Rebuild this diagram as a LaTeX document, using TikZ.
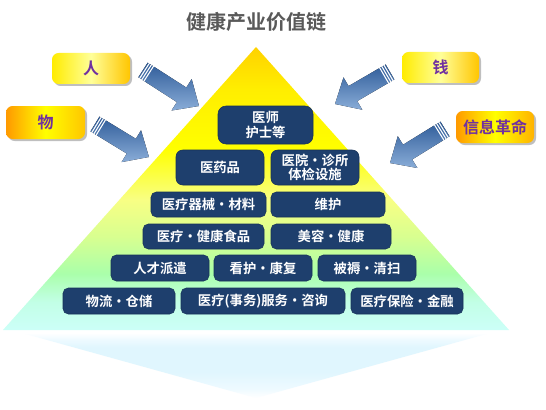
\documentclass[tikz,border=0pt]{standalone}
\usepackage{fontspec}
\newfontfamily\cjk{Noto Sans CJK SC}[BoldFont={Noto Sans CJK SC Bold}]
\usetikzlibrary{calc,shadows}
\definecolor{navy}{HTML}{1E3F6D}
\definecolor{navyedge}{HTML}{163158}
\definecolor{purp}{HTML}{7030A0}
\definecolor{titlegray}{HTML}{595959}
\definecolor{pA}{HTML}{CCFFF8}
\definecolor{pB}{HTML}{C2FFE6}
\definecolor{pC}{HTML}{AAFFAA}
\definecolor{pD}{HTML}{D8FF90}
\definecolor{pE}{HTML}{F8FF84}
\definecolor{pF}{HTML}{FFFF00}
\definecolor{pG}{HTML}{FFEE00}
\definecolor{pH}{HTML}{FFD200}
\definecolor{rA}{HTML}{E0F6FE}
\definecolor{rB}{HTML}{EEFAFF}
\definecolor{arDark}{HTML}{2F5C99}
\definecolor{arLight}{HTML}{8AADD8}
\pgfdeclareverticalshading{pyr}{100bp}{color(0bp)=(pA); color(25bp)=(pA); color(30bp)=(pB); color(35bp)=(pC); color(41.5bp)=(pD); color(48bp)=(pE); color(57bp)=(pF); color(67.5bp)=(pG); color(75bp)=(pH); color(100bp)=(pH)}
\pgfdeclareverticalshading{refl}{100bp}{color(0bp)=(white); color(25bp)=(white); color(32bp)=(rB); color(45bp)=(rA); color(64bp)=(rA); color(70bp)=(rB); color(75bp)=(white); color(100bp)=(white)}
\tikzset{
  bx/.style 2 args={minimum width={#1*0.75pt}, minimum height={#2*0.75pt}},
  nb/.style={fill=navy, draw=navyedge, line width=0.4pt, rounded corners=4pt, inner sep=0pt,
    text=white, align=center, font=\cjk\bfseries\fontsize{10}{11.5}\selectfont},
  sb/.style={rounded corners=5pt, inner sep=0pt, text=purp,
    font=\cjk\bfseries\fontsize{12}{14}\selectfont,
    drop shadow={shadow xshift=1.5pt, shadow yshift=-1.5pt, fill=black!50, opacity=0.5}},
  arrowfill/.style={top color=arDark, bottom color=arLight},
}
\newcommand\blkarrow[2]{%
  \path let \p1=(#1), \p2=(#2) in \pgfextra{%
    \pgfmathsetmacro\arAngT{atan2(\y2-\y1,\x2-\x1)}%
    \pgfmathsetmacro\arLenT{veclen(\x2-\x1,\y2-\y1)}%
    \global\let\arAng\arAngT \global\let\arLen\arLenT};
  \begin{scope}[shift={(#1)}, rotate=\arAng]
    \fill[arrowfill] (0pt,-6.5pt) -- ({\arLen pt-15.5pt},-6.5pt) -- ({\arLen pt-15.5pt},-14pt)
      -- (\arLen pt,0pt) -- ({\arLen pt-15.5pt},14pt) -- ({\arLen pt-15.5pt},6.5pt) -- (0pt,6.5pt) -- cycle;
    \foreach \g in {1.3pt,3.2pt,5.1pt} \draw[white, line width=0.8pt] (\g,-7pt) -- (\g,7pt);
  \end{scope}}
\begin{document}
\begin{tikzpicture}[x=0.75pt, y=-0.75pt]
\useasboundingbox (0,0) rectangle (546,410);
\fill[white] (0,0) rectangle (546,410);
% reflection
\shade[shading=refl] (22,333) -- (490,333) -- (256,398) -- cycle;
% pyramid
\shade[shading=pyr] (256,47) -- (509,330) -- (3,330) -- cycle;
% title
\node[font=\cjk\bfseries\fontsize{15}{17}\selectfont, text=titlegray] (title) at (256,22) {健康产业价值链};
% side boxes
\node[sb, bx={78}{31}, left color=yellow!85!orange, right color=orange!45!yellow, middle color=yellow!40] (ren) at (91,68.5) {人};
\node[sb, bx={77}{31}, left color=yellow!85!orange, right color=orange!45!yellow, middle color=yellow!40] (qian) at (440.5,67.5) {钱};
\node[sb, bx={79}{33}, left color=orange!80!yellow, right color=orange!45!yellow, middle color=yellow] (wu) at (45.5,122.5) {物};
\node[sb, bx={78}{32}, left color=orange!80!yellow, right color=orange!60!yellow, middle color=yellow] (xinxi) at (495,127) {信息革命};
% arrow ends
\coordinate (a1t) at (143,70); \coordinate (a1h) at (199,106);
\coordinate (a2t) at (390,72); \coordinate (a2h) at (335,104);
\coordinate (a3t) at (95,124); \coordinate (a3h) at (149,157);
\coordinate (a4t) at (445,129); \coordinate (a4h) at (390,163);
\blkarrow{a1t}{a1h}
\blkarrow{a2t}{a2h}
\blkarrow{a3t}{a3h}
\blkarrow{a4t}{a4h}
% pyramid boxes
\node[nb, bx={95}{38}, rounded corners=6pt, font=\cjk\bfseries\fontsize{10}{11}\selectfont] (yishi) at (265.5,125) {医师\\护士等};
\node[nb, bx={88}{35}, rounded corners=5pt] (yaopin) at (220,167.5) {医药品};
\node[nb, bx={88}{35}, rounded corners=5pt, font=\cjk\bfseries\fontsize{10}{11}\selectfont] (yiyuan) at (315,167.5) {医院・诊所\\体检设施};
\node[nb, bx={115}{25}] (qixie) at (208.5,204.5) {医疗器械・材料};
\node[nb, bx={114}{25}] (weihu) at (328,204.5) {维护};
\node[nb, bx={121}{25}] (shipin) at (203.5,236.5) {医疗・健康食品};
\node[nb, bx={120}{25}] (meirong) at (331,236.5) {美容・健康};
\node[nb, bx={98}{26}] (rencai) at (160,268) {人才派遣};
\node[nb, bx={98}{26}] (kanhu) at (263,268) {看护・康复};
\node[nb, bx={98}{26}] (beiru) at (367,268) {被褥・清扫};
\node[nb, bx={112}{26}] (wuliu) at (119,301) {物流・仓储};
\node[nb, bx={164}{26}] (shiwu) at (263,301) {医疗(事务)服务・咨询};
\node[nb, bx={112}{26}] (baoxian) at (407,301) {医疗保险・金融};
\end{tikzpicture}
\end{document}
